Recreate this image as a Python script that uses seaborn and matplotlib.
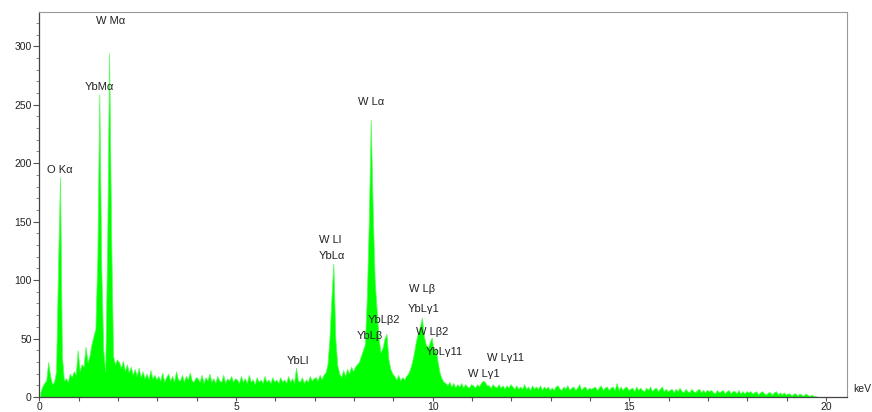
import numpy as np
import pandas as pd
import matplotlib
matplotlib.use("Agg")
import matplotlib.pyplot as plt
import seaborn as sns
from matplotlib.ticker import MultipleLocator

# ---- data: counts per 0.05 keV channel ----
channel_width_kev = 0.05

counts_0_2kev = [
    4, 9, 12, 14, 30, 18, 11, 13, 22, 110, 188, 35, 14, 16, 13, 20, 17, 22, 19, 40,
    22, 28, 26, 43, 30, 35, 45, 52, 58, 120, 259, 110, 40, 22, 130, 294, 140, 35, 28, 32,
]
counts_2_7kev = [
    30, 25, 31, 22, 28, 21, 26, 19, 24, 18, 25, 17, 22, 16, 20, 15, 23, 16, 19, 15,
    18, 14, 21, 13, 17, 20, 14, 18, 13, 22, 15, 14, 19, 13, 18, 15, 21, 14, 13, 17,
    16, 13, 19, 12, 17, 14, 20, 13, 16, 12, 18, 14, 13, 19, 12, 16, 14, 18, 13, 16,
    15, 12, 18, 13, 16, 12, 19, 13, 15, 11, 17, 13, 15, 12, 18, 13, 15, 12, 17, 13,
    15, 12, 17, 13, 15, 12, 18, 13, 16, 12, 25, 14, 13, 17, 12, 15, 13, 18, 14, 16,
]
counts_7_11kev = [
    17, 14, 19, 15, 19, 21, 28, 50, 85, 114, 50, 27, 20, 17, 23, 18, 24, 20, 26, 22,
    26, 28, 30, 35, 40, 45, 85, 150, 237, 160, 100, 75, 50, 38, 42, 50, 54, 32, 24, 20,
    18, 15, 19, 14, 17, 15, 18, 20, 24, 30, 38, 48, 55, 60, 68, 52, 45, 42, 47, 51,
    38, 42, 30, 21, 16, 13, 12, 10, 13, 9, 12, 8, 11, 9, 12, 8, 11, 9, 8, 11,
]
counts_11_20kev = [
    10, 8, 11, 9, 12, 14, 13, 10, 10, 8, 11, 9, 8, 11, 8, 10, 7, 10, 8, 11,
    9, 7, 10, 7, 9, 7, 11, 7, 9, 6, 10, 7, 9, 7, 10, 6, 9, 7, 9, 6,
    8, 6, 9, 10, 7, 6, 9, 7, 10, 6, 8, 9, 6, 8, 11, 6, 8, 9, 6, 8,
    7, 8, 9, 6, 8, 10, 6, 8, 9, 6, 8, 9, 6, 12, 6, 9, 6, 8, 9, 6,
    7, 8, 5, 9, 6, 8, 6, 5, 8, 6, 9, 5, 7, 8, 5, 7, 9, 5, 7, 5,
    6, 7, 4, 7, 5, 8, 5, 4, 7, 5, 4, 7, 5, 4, 6, 7, 4, 6, 4, 6,
    5, 6, 4, 3, 6, 4, 5, 6, 3, 5, 6, 3, 5, 5, 3, 6, 3, 5, 3, 5,
    4, 5, 3, 4, 5, 2, 4, 5, 3, 2, 4, 4, 2, 4, 5, 2, 4, 2, 4, 2,
    3, 3, 1, 3, 3, 1, 3, 2, 1, 3, 2, 1, 2, 1, 1, 0, 0, 0, 0, 0,
]

peak_names = ["O K\u03b1", "YbM\u03b1", "W M\u03b1", "YbLl", "W Ll", "YbL\u03b1",
              "W L\u03b1", "YbL\u03b2", "YbL\u03b22", "W L\u03b2", "YbL\u03b31",
              "W L\u03b22", "YbL\u03b311", "W L\u03b31", "W L\u03b311"]
peak_label_kev = [0.53, 1.53, 1.80, 6.56, 7.39, 7.43, 8.43, 8.41, 8.77, 9.72,
                  9.77, 9.99, 10.30, 11.29, 11.85]
peak_label_counts = [194, 265, 322, 30.5, 134.5, 121, 252, 52, 65.5, 92,
                     75, 55.5, 38.5, 20, 33.5]

x_ticks = [0, 5, 10, 15, 20]
y_ticks = [0, 50, 100, 150, 200, 250, 300]

counts = np.array(counts_0_2kev + counts_2_7kev + counts_7_11kev + counts_11_20kev, dtype=float)
n = len(counts)
centers = (np.arange(n) + 0.5) * channel_width_kev
df = pd.DataFrame({"keV": centers, "counts": counts})

# ---- style ----
sns.set_style("white")
plt.rcParams["font.family"] = ["Liberation Sans", "DejaVu Sans"]

fig = plt.figure(figsize=(8.72, 4.12), dpi=100)
ax = fig.add_axes([0.0451, 0.0364, 0.9266, 0.9337])

sns.histplot(data=df, x="keV", weights="counts", bins=n,
             binrange=(0, n * channel_width_kev), element="poly",
             fill=True, color="#00ff00", alpha=1.0, linewidth=0.5,
             edgecolor="#55ff55", ax=ax)

ax.set_xlim(0, 20.54)
ax.set_ylim(0, 329)
ax.set_xlabel("")
ax.set_ylabel("")

ax.set_xticks(x_ticks)
ax.set_yticks(y_ticks)
ax.xaxis.set_minor_locator(MultipleLocator(1))
ax.yaxis.set_minor_locator(MultipleLocator(10))
ax.tick_params(axis="y", which="major", direction="out", length=4, width=0.8,
               color="#555555", labelsize=7.5, labelcolor="#222222", pad=1.5)
ax.tick_params(axis="x", which="major", direction="out", length=3, width=0.8,
               color="#555555", labelsize=7.5, labelcolor="#222222", pad=0.5)
ax.tick_params(axis="x", which="minor", direction="out", length=3, width=0.8, color="#555555")
ax.tick_params(axis="y", which="minor", direction="out", length=2.5, width=0.6, color="#777777")
ax.tick_params(bottom=True, left=True, which="both")

for side in ["left", "bottom"]:
    ax.spines[side].set_color("#444444")
    ax.spines[side].set_linewidth(0.9)
for side in ["top", "right"]:
    ax.spines[side].set_color("#999999")
    ax.spines[side].set_linewidth(0.8)

for name, xk, yc in zip(peak_names, peak_label_kev, peak_label_counts):
    ax.text(xk, yc, name, ha="center", va="center", fontsize=8, color="#222222")

fig.text(862 / 872, 1 - 389 / 412, "keV", ha="center", va="center",
         fontsize=7.5, color="#222222")

fig.savefig("out.png", dpi=100)
